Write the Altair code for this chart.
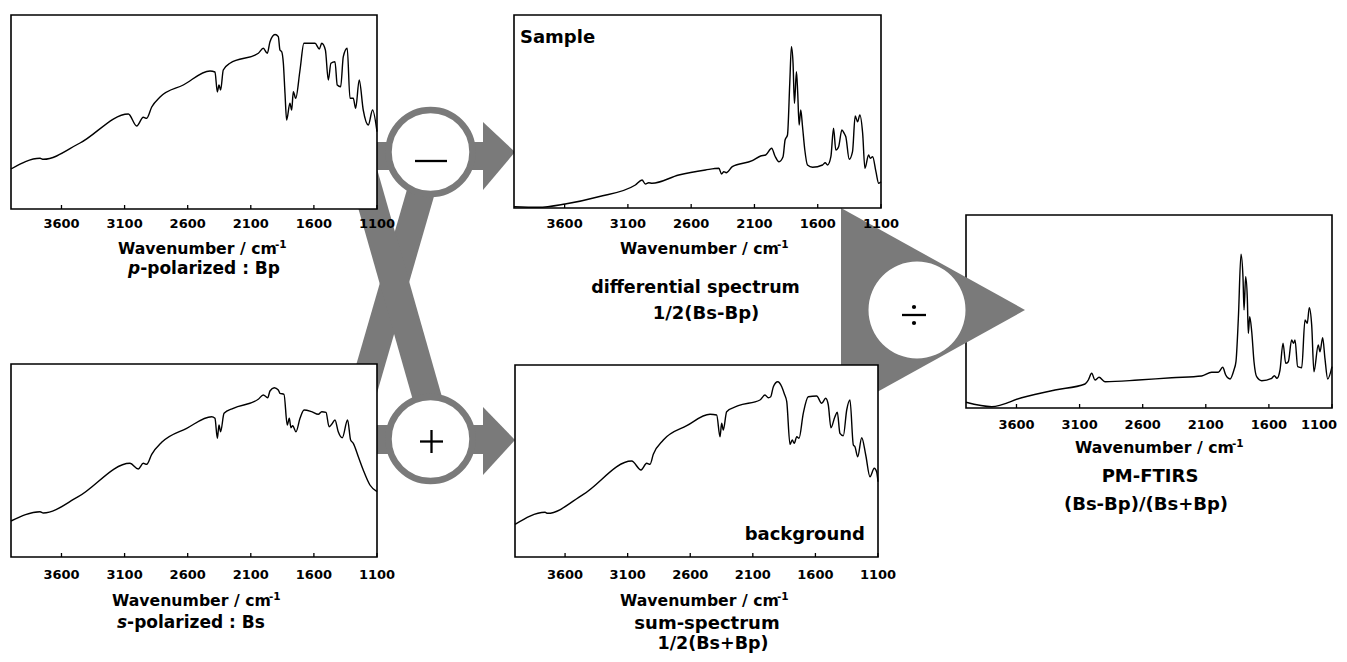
import altair as alt
import pandas as pd

GRAY = "#7a7a7a"
FONT = "DejaVu Sans"
OFF = 8  # page margin

TICK_VALUES = [3600, 3100, 2600, 2100, 1600, 1100]
TICK_LABELS = ["3600", "3100", "2600", "2100", "1600", "1100"]

# ---- spectra (wavenumber / cm-1, intensity in arbitrary units) ----
P_WN = [4000, 3770, 3744, 3453, 3070, 3004, 2952, 2925, 2885, 2819, 2635, 2423, 2384, 2365,
        2352, 2339, 2318, 2265, 2040, 2001, 1969, 1948, 1908, 1882, 1869, 1855, 1842, 1829,
        1816, 1790, 1776, 1763, 1744, 1710, 1679, 1591, 1557, 1538, 1509, 1486, 1465, 1433,
        1415, 1388, 1367, 1336, 1314, 1288, 1269, 1241, 1209, 1169, 1135, 1100]
P_VAL = [40, 50.7, 49.7, 66, 95, 83, 91.7, 90.7, 102, 112, 124, 138, 137, 117,
         124, 119, 139, 145.7, 155.7, 160.7, 155.7, 167.3, 174.5, 172.3, 159, 157.3, 145.7, 115.7,
         89, 105.7, 99, 117.3, 110.7, 139, 165.7, 165.7, 160, 165.7, 159, 129, 145.7, 147.3,
         124, 122.3, 152.3, 160.7, 110.7, 110.7, 100.7, 129, 99, 84, 99, 77.3]

S_WN = [4000, 3770, 3744, 3467, 3057, 2991, 2952, 2925, 2885, 2806, 2608, 2410, 2384, 2365,
        2352, 2339, 2312, 2239, 2041, 2001, 1966, 1948, 1914, 1882, 1869, 1837, 1811, 1795,
        1782, 1768, 1742, 1710, 1678, 1618, 1565, 1538, 1504, 1480, 1459, 1433, 1407, 1375,
        1333, 1309, 1288, 1248, 1209, 1156, 1100]
S_VAL = [36, 45.3, 44, 60.3, 93.7, 88, 93.7, 92.7, 102.7, 114.7, 128.7, 140.3, 138.7, 118.7,
         132, 125.3, 143.7, 148.7, 157.7, 162, 159.3, 166, 169.3, 167, 163.7, 162.7, 132, 138.7,
         129.3, 131.3, 125.3, 138.7, 147, 145.3, 142.7, 145.3, 144.7, 130.3, 132.7, 137, 125.3, 119.3,
         137, 117, 113.7, 100.3, 87, 72, 65.3]

DIFF_WN = [4000, 3807, 3596, 3332, 3041, 2988, 2962, 2936, 2909, 2698, 2487, 2381, 2360, 2342,
           2323, 2275, 2117, 2051, 2011, 1964, 1938, 1906, 1874, 1858, 1839, 1821, 1808, 1795,
           1784, 1768, 1758, 1747, 1734, 1720, 1702, 1681, 1641, 1562, 1541, 1522, 1496, 1475,
           1457, 1435, 1409, 1391, 1378, 1351, 1325, 1304, 1285, 1267, 1245, 1227, 1198, 1185,
           1166, 1140, 1118, 1100]
DIFF_VAL = [1.3, 0.7, 4, 11.3, 23, 28, 24, 25.3, 24.7, 33, 38, 39.7, 34, 36.3,
            35.3, 41.3, 47.3, 52, 53, 59.7, 52, 46.3, 51.3, 68, 73, 124.7, 161.3, 144.7,
            104.7, 136.3, 114.7, 83, 98, 81.3, 58, 43, 40.7, 43, 45.3, 43, 51.3, 79.7,
            58, 61.3, 78, 74.7, 71.3, 48.7, 56.3, 92, 86.3, 93, 74.7, 39.7, 53, 49.7,
            51.3, 36.3, 24.7, 26.3]

SUM_WN = [4000, 3760, 3740, 3454, 3068, 2993, 2948, 2921, 2895, 2815, 2628, 2442, 2389, 2362,
          2349, 2336, 2309, 2216, 2043, 2003, 1976, 1957, 1936, 1901, 1869, 1847, 1829, 1803,
          1785, 1769, 1749, 1731, 1697, 1657, 1590, 1550, 1518, 1497, 1476, 1444, 1425, 1404,
          1377, 1350, 1324, 1297, 1284, 1262, 1230, 1198, 1164, 1130, 1111, 1100]
SUM_VAL = [32.7, 44.7, 43.7, 62.7, 96, 87, 93.7, 92.7, 102.7, 117, 131.3, 142.7, 142, 120.3,
           133.7, 127, 145.3, 151.3, 157, 162, 159.3, 160.3, 170.3, 175.3, 170.3, 162.7, 155.3, 112.7,
           117, 113.7, 120.3, 118.7, 143.7, 160.3, 161, 153.7, 158.7, 152, 129.3, 140.3, 144.7, 123.7,
           121.3, 147, 157, 112, 110.3, 100.3, 119.3, 102, 80.3, 88.7, 85.3, 75.3]

PM_WN = [4000, 3796, 3559, 3295, 3057, 3031, 3004, 2978, 2946, 2899, 2635, 2370, 2133, 2054,
         2001, 1966, 1942, 1908, 1877, 1861, 1842, 1821, 1805, 1797, 1784, 1771, 1763, 1752,
         1736, 1718, 1697, 1657, 1578, 1557, 1536, 1512, 1488, 1467, 1446, 1420, 1404, 1393,
         1372, 1340, 1314, 1296, 1280, 1261, 1243, 1209, 1195, 1174, 1156, 1134, 1100]
PM_VAL = [5.7, 1.3, 10.3, 18, 24, 28, 34.7, 28, 30.7, 26.3, 28, 30.3, 32, 35.7,
          35.7, 40.7, 33, 29, 38, 46.3, 89.7, 153.7, 129.7, 98, 131.3, 109.7, 74.7, 91.3,
          76.3, 46.3, 31.3, 27.3, 29.7, 32.3, 29.7, 38, 64.7, 44.7, 46.3, 68, 64.7, 68,
          41.3, 40.3, 88, 84.7, 100.3, 83, 36.3, 63, 56.3, 70.3, 49.7, 29, 41.3]

# ---- layout (page pixels): left, right, top, bottom of each plot frame ----
FRAMES = {
    "p": (11, 377, 15, 209),
    "s": (11, 377, 364, 557),
    "diff": (514, 881, 15, 208),
    "sum": (515, 878, 365, 557),
    "pm": (966, 1332, 215, 408),
}
LABEL_BASE = {"p": 228, "s": 579, "diff": 228, "sum": 579, "pm": 429}
TITLE_POS = {"p": (118, 254), "s": (112, 606), "diff": (620, 254), "sum": (620, 606), "pm": (1075, 453)}

# diagram scales (page pixels)
DX = alt.Scale(domain=[OFF, 1331 + OFF], range=[0, 1331], nice=False, zero=False)
DY = alt.Scale(domain=[OFF, 646 + OFF], range=[0, 646], nice=False, zero=False)


def text(s, x, y, size, align="center", style="normal"):
    return alt.Chart(pd.DataFrame({"t": [s]})).mark_text(
        font=FONT, fontSize=size, fontWeight="bold", fontStyle=style, align=align,
        baseline="alphabetic", color="black"
    ).encode(x=alt.value(x - OFF), y=alt.value(y - OFF), text="t:N")


def panel(key, wn, val, fill_opacity=1.0, last_dx=0):
    L, R, T, B = FRAMES[key]
    H = B - T
    xs = alt.Scale(domain=[4000, 1100], range=[L - OFF, R - OFF], nice=False, zero=False)
    ys = alt.Scale(domain=[0, H], range=[B - OFF, T - OFF], nice=False, zero=False)

    def X(f):
        return alt.X(f, type="quantitative", scale=xs, axis=None)

    def Y(f):
        return alt.Y(f, type="quantitative", scale=ys, axis=None)

    frame = alt.Chart(pd.DataFrame({"a": [4000], "b": [1100], "c": [0], "d": [H]})).mark_rect(
        fill="white", fillOpacity=fill_opacity, stroke="black", strokeWidth=1.6
    ).encode(x=X("a"), x2="b", y=Y("c"), y2="d")
    ticks = alt.Chart(pd.DataFrame({"t": TICK_VALUES, "y0": [0] * 6, "y1": [4] * 6})).mark_rule(
        color="black", strokeWidth=1.3
    ).encode(x=X("t"), y=Y("y0"), y2="y1")
    line = alt.Chart(pd.DataFrame({"wn": wn, "v": val})).mark_line(
        color="black", strokeWidth=1.4, interpolate="monotone"
    ).encode(x=X("wn"), y=Y("v"), order=alt.Order("wn:Q", sort="descending"))
    lab_style = dict(font=FONT, fontSize=13, fontWeight="bold", baseline="alphabetic",
                     align="center", color="black")
    labels = alt.Chart(pd.DataFrame({"t": TICK_VALUES[:-1], "lab": TICK_LABELS[:-1]})).mark_text(
        **lab_style
    ).encode(x=X("t"), y=alt.value(LABEL_BASE[key] - OFF), text="lab:N")
    last = alt.Chart(pd.DataFrame({"t": TICK_VALUES[-1:], "lab": TICK_LABELS[-1:]})).mark_text(
        dx=last_dx, **lab_style
    ).encode(x=X("t"), y=alt.value(LABEL_BASE[key] - OFF), text="lab:N")
    tx, tb = TITLE_POS[key]
    title = text("Wavenumber / cm", tx, tb, 15.7, align="left")
    sup = text("-1", tx + 157, tb - 6, 10.5, align="left")
    return [frame, ticks, line, labels, last, title, sup]


# ---- gray flow shapes (page pixels) ----
bars = pd.DataFrame({"x0": [370, 370], "x1": [484, 484], "y0": [142, 425], "y1": [170, 454]})
heads = pd.DataFrame({
    "id": ["minus", "minus", "plus", "plus", "div", "div"],
    "x": [483, 515, 483, 515, 841, 1025],
    "ylo": [122, 152, 407, 440, 208, 310],
    "yhi": [190, 152, 475, 440, 412, 310],
})
bands = pd.DataFrame({
    "id": ["A", "A", "B", "B"],
    "y": [185, 400, 160, 405],
    "xlo": [408.3, 346, 344.5, 414.3],
    "xhi": [437.3, 375, 374.5, 444.3],
})
rings = pd.DataFrame({"x": [430.5, 430.5], "y": [152, 439]})
div_circle = pd.DataFrame({"x": [917], "y": [310]})
segments = pd.DataFrame({
    "x": [415, 420, 431.5, 902], "x2": [447, 443, 431.5, 926],
    "y": [161, 441.5, 430, 315], "y2": [161, 441.5, 453, 315],
})
dots = pd.DataFrame({"x": [914, 914], "y": [307, 323]})

gx = lambda f: alt.X(f, type="quantitative", scale=DX, axis=None)
gy = lambda f: alt.Y(f, type="quantitative", scale=DY, axis=None)

bar_layer = alt.Chart(bars).mark_rect(color=GRAY, opacity=1).encode(
    x=gx("x0"), x2="x1", y=gy("y0"), y2="y1")
head_layer = alt.Chart(heads).mark_area(color=GRAY, opacity=1, orient="vertical").encode(
    x=gx("x"), y=gy("ylo"), y2="yhi", detail="id:N")
band_layer = alt.Chart(bands).mark_area(color=GRAY, opacity=1, orient="horizontal").encode(
    y=gy("y"), x=gx("xlo"), x2="xhi", detail="id:N")
ring_layer = alt.Chart(rings).mark_point(
    shape="circle", filled=True, fill="white", stroke=GRAY, strokeWidth=6.5, size=84 ** 2, opacity=1
).encode(x=gx("x"), y=gy("y"))
div_layer = alt.Chart(div_circle).mark_point(
    shape="circle", filled=True, fill="white", strokeWidth=0, size=97 ** 2, opacity=1
).encode(x=gx("x"), y=gy("y"))
seg_layer = alt.Chart(segments).mark_rule(color="black", strokeWidth=2.3).encode(
    x=gx("x"), x2="x2", y=gy("y"), y2="y2")
dot_layer = alt.Chart(dots).mark_point(
    shape="circle", filled=True, color="black", size=18, opacity=1).encode(x=gx("x"), y=gy("y"))

layers = []
layers += panel("pm", PM_WN, PM_VAL, fill_opacity=0.0, last_dx=-13)
layers += [bar_layer, head_layer, band_layer]
layers += panel("p", P_WN, P_VAL)
layers += panel("s", S_WN, S_VAL)
layers += panel("diff", DIFF_WN, DIFF_VAL)
layers += panel("sum", SUM_WN, SUM_VAL)
layers += [ring_layer, div_layer, seg_layer, dot_layer]

# captions
layers += [
    text("p", 128, 274, 17, align="left", style="italic"),
    text("-polarized : Bp", 140.2, 274, 17, align="left"),
    text("s", 117, 628, 17, align="left", style="italic"),
    text("-polarized : Bs", 127.1, 628, 17, align="left"),
    text("Sample", 520, 43, 18, align="left"),
    text("differential spectrum", 695.5, 293, 17.5),
    text("1/2(Bs-Bp)", 706, 319, 18),
    text("background", 865, 540, 18, align="right"),
    text("sum-spectrum", 707, 629, 18),
    text("1/2(Bs+Bp)", 713, 649, 17.5),
    text("PM-FTIRS", 1150, 482, 18),
    text("(Bs-Bp)/(Bs+Bp)", 1146, 510, 18),
]

chart = alt.layer(*layers).resolve_scale(x="independent", y="independent").properties(
    width=1331, height=646, autosize=alt.AutoSizeParams(type="none"), padding=0,
    background="white"
).configure_view(strokeWidth=0)

chart.save("out.html", embed_options={"renderer": "svg", "actions": False})
